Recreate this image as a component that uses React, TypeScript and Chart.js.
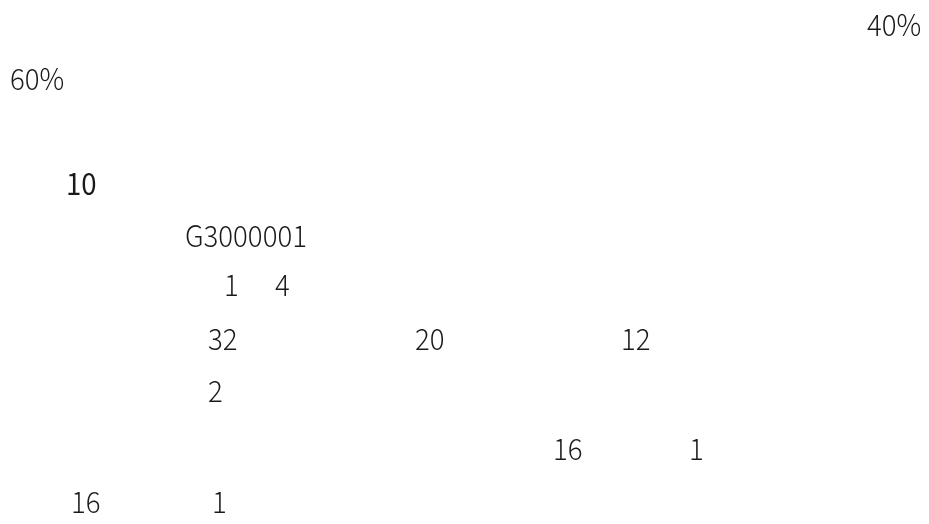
import React, { useEffect, useRef } from "react";
import { Chart, registerables } from "chart.js";

Chart.register(...registerables);

// Text fragments visible in the reference, in reading order
const LABELS: string[] = ["40%", "60%", "10", "G3000001", "1", "4", "32", "20", "12", "2", "16", "1", "16", "1"];
// Horizontal position (left edge) of each fragment on the page grid
const COLUMNS: number[] = [867, 10, 66, 185, 224, 275, 208, 415, 621, 208, 553, 689, 71, 212];
// Vertical position (baseline) of each fragment on the page grid
const ROWS: number[] = [36, 90, 195, 247, 296, 296, 350, 350, 350, 402, 460, 460, 513, 513];

const textPlugin = {
  id: "pageText",
  afterDatasetsDraw(chart: any) {
    const { ctx } = chart;
    const meta = chart.getDatasetMeta(0);
    const ds = chart.data.datasets[0] as any;
    meta.data.forEach((el: any, i: number) => {
      const lbl = ds.data[i].label as string;
      const weight = i === 2 ? 400 : 300;
      ctx.save();
      ctx.fillStyle = "#1a1a1a";
      ctx.textBaseline = "alphabetic";
      ctx.textAlign = "left";
      ctx.font = `${weight} 30px "Noto Sans CJK SC", "Noto Sans", sans-serif`;
      ctx.translate(el.x, el.y);
      ctx.scale(0.92, 1);
      ctx.fillText(lbl, 0, 0);
      ctx.restore();
    });
  },
};

export default function App() {
  const ref = useRef<HTMLCanvasElement | null>(null);
  useEffect(() => {
    document.body.style.margin = "0";
    const points = LABELS.map((label, i) => ({ x: COLUMNS[i], y: ROWS[i], label }));
    const chart = new Chart(ref.current as HTMLCanvasElement, {
      type: "scatter",
      data: {
        datasets: [
          {
            data: points as any,
            pointRadius: 0,
            pointHoverRadius: 0,
          },
        ],
      },
      options: {
        animation: false,
        responsive: true,
        maintainAspectRatio: false,
        layout: { padding: 0 },
        plugins: { legend: { display: false }, tooltip: { enabled: false }, title: { display: false } },
        scales: {
          x: { type: "linear", display: false, min: 0, max: 929 },
          y: { type: "linear", display: false, min: 0, max: 524, reverse: true },
        },
      },
      plugins: [textPlugin],
    });
    return () => chart.destroy();
  }, []);
  return (
    <div style={{ position: "absolute", left: 0, top: 0, width: 929, height: 524, background: "#fff" }}>
      <canvas ref={ref} />
    </div>
  );
}
